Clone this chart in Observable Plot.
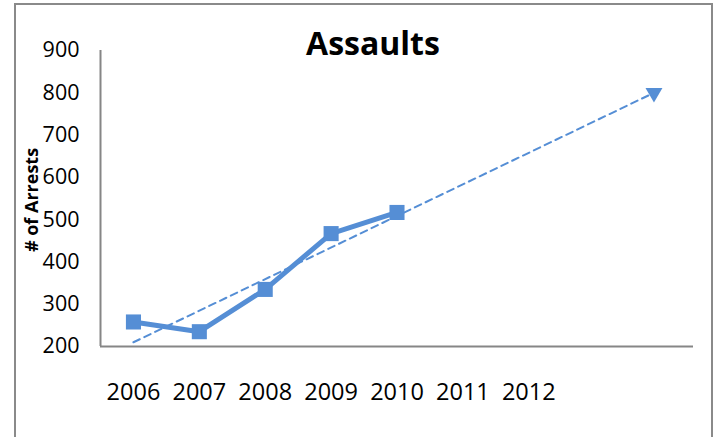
<!DOCTYPE html>
<html>
<head>
<meta charset="utf-8">
<script src="https://cdn.jsdelivr.net/npm/d3@7"></script>
<script src="https://cdn.jsdelivr.net/npm/@observablehq/plot@0.6"></script>
<style>
  html, body { margin: 0; padding: 0; background: #fff; overflow: hidden; }
  #wrap { position: relative; width: 717px; height: 437px; }
  #frame { position: absolute; left: 14px; top: 3px; width: 699px; height: 460px; border: 2px solid #8a8a8a; box-sizing: border-box; }
  #chart { position: absolute; left: 0; top: 0; }
  #title { position: absolute; left: 0; width: 746px; top: 21px; text-align: center; font: bold 32px "Open Sans", sans-serif; line-height: normal; color: #000; }
  #ylabel { position: absolute; left: 31px; top: 200px; transform: translate(-50%, -50%) rotate(-90deg); font: bold 18px "Open Sans", sans-serif; white-space: nowrap; color: #000; }
</style>
</head>
<body>
<div id="wrap">
  <div id="frame"></div>
  <div id="chart"></div>
  <div id="title">Assaults</div>
  <div id="ylabel"># of Arrests</div>
</div>
<script>
const years = [2006, 2007, 2008, 2009, 2010];
const arrests = [258, 235, 335, 467, 517];
const trendYears = [2006, 2013.9];
const trendValues = [210, 800];
const xTickLabels = [2006, 2007, 2008, 2009, 2010, 2011, 2012];
const yTicks = [200, 300, 400, 500, 600, 700, 800, 900];

const blue = "#558ED5";
const data = years.map((y, i) => ({year: y, value: arrests[i]}));
const trend = trendYears.map((y, i) => ({year: y, value: trendValues[i]}));
const projection = [trend[trend.length - 1]];

const chart = Plot.plot({
  width: 717,
  height: 437,
  marginLeft: 100,
  marginRight: 24,
  marginTop: 50,
  marginBottom: 91,
  style: {fontFamily: "'Open Sans', sans-serif", background: "transparent"},
  x: {type: "linear", domain: [2005.5, 2014.5], label: null},
  y: {domain: [200, 900], label: null},
  marks: [
    Plot.axisX({ticks: xTickLabels, tickFormat: d => String(d), tickSize: 0, tickPadding: 37, fontSize: 23.5, label: null, fill: "#000"}),
    Plot.axisY({ticks: yTicks, tickSize: 0, tickPadding: 21, fontSize: 21.5, label: null, fill: "#000"}),
    Plot.ruleX([2005.5], {stroke: "#868686", strokeWidth: 2}),
    Plot.ruleY([200], {stroke: "#868686", strokeWidth: 2}),
    Plot.line(trend, {x: "year", y: "value", stroke: blue, strokeWidth: 2, strokeDasharray: "7,5"}),
    Plot.line(data, {x: "year", y: "value", stroke: blue, strokeWidth: 5}),
    Plot.dot(data, {x: "year", y: "value", symbol: "square", r: 8.5, fill: blue, stroke: "none"}),
    Plot.dot(projection, {x: "year", y: "value", symbol: "triangle", r: 6.3, rotate: 180, fill: blue, stroke: "none"})
  ]
});
document.getElementById("chart").appendChild(chart);
</script>
</body>
</html>
